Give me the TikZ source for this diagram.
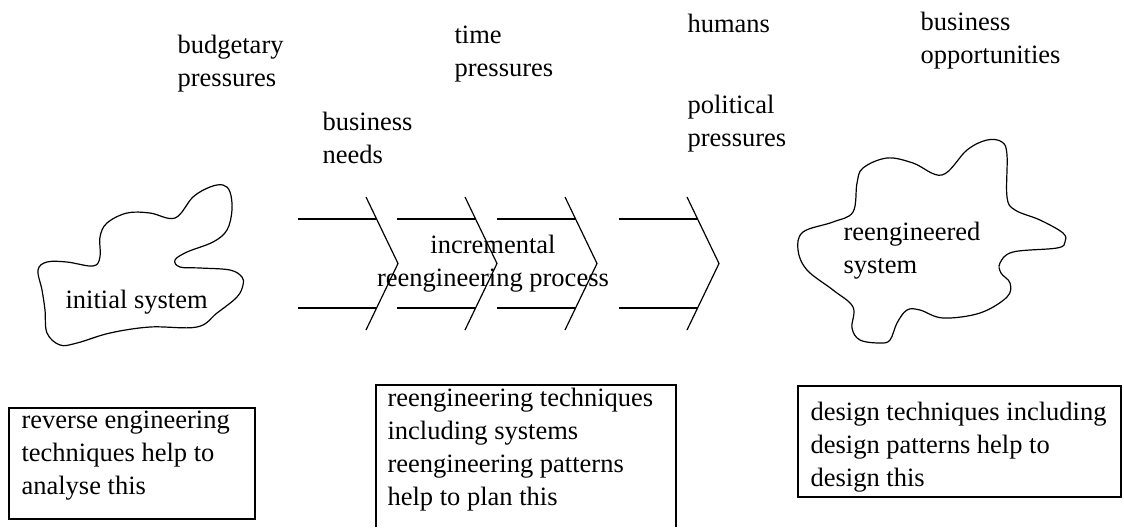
\documentclass[tikz,border=0pt]{standalone}
\usepackage{fontspec}
\setmainfont{Liberation Serif}
\begin{document}
\begin{tikzpicture}[x=0.5pt, y=-0.5pt, line width=0.6pt,
    font=\fontsize{13.25}{16.5}\selectfont,
    lbl/.style={align=left, anchor=base west, inner sep=0pt}]
    \useasboundingbox (0,0) rectangle (1124,527);

    % Pressures acting on the process (placed at the last baseline)
    \node[lbl] (budget) at (177,86) {budgetary\\pressures};
    \node[lbl] (needs) at (322,163) {business\\needs};
    \node[lbl] (time) at (454,76) {time\\pressures};
    \node[lbl] (humans) at (687,32) {humans};
    \node[lbl] (political) at (687,146) {political\\pressures};
    \node[lbl] (opport) at (920,63) {business\\opportunities};

    % Initial system
    \draw plot[smooth cycle, tension=0.6] coordinates {
        (175,218) (193,197) (210,187) (223,185) (230,192) (232,210)
        (227,230) (213,242) (187,252) (175,260) (180,267) (200,268)
        (230,270) (242,277) (243,285) (237,297) (217,313) (197,327)
        (150,327) (110,333) (77,343) (60,345) (47,333) (45,310)
        (42,290) (38,270) (47,262) (67,262) (93,266) (100,257)
        (100,237) (107,223) (127,213) (150,213)};
    \node[lbl] (initial) at (65,308) {initial system};

    % Chevrons of the process
    \foreach \x in {366,465,565,687} {
        \draw (\x,197) -- (\x+32,263.5) -- (\x,330);
        \draw (\x-68,219) -- (\x+10.6,219);
        \draw (\x-68,308) -- (\x+10.6,308);
    }
    \node[align=center, anchor=base, inner sep=0pt] (process) at (493,286)
        {incremental\\reengineering process};

    % Reengineered system
    \draw plot[smooth cycle, tension=0.6] coordinates {
        (942,175) (967,150) (987,140) (1002,142) (1007,155) (1007,197)
        (1015,210) (1040,220) (1063,233) (1065,242) (1057,248) (1013,252)
        (1000,263) (1001,273) (1010,283) (1007,297) (980,313) (943,318)
        (920,310) (907,310) (897,323) (890,340) (880,343) (860,340)
        (852,328) (853,307) (833,290) (807,270) (798,250) (803,232)
        (833,222) (853,212) (857,183) (863,168) (887,158) (913,163)};
    \node[lbl] (reeng) at (843,273) {reengineered\\system};

    % Techniques
    \draw (9,408) rectangle (255,519);
    \node[lbl] (reverse) at (21,494)
        {reverse engineering\\techniques help to\\analyse this};
    \draw (376,527) |- (676,385) -- (676,527);
    \node[lbl] (plan) at (387,505)
        {reengineering techniques\\including systems\\reengineering patterns\\help to plan this};
    \draw (798,386) rectangle (1121,497);
    \node[lbl] (design) at (810,486)
        {design techniques including\\design patterns help to\\design this};
\end{tikzpicture}
\end{document}
